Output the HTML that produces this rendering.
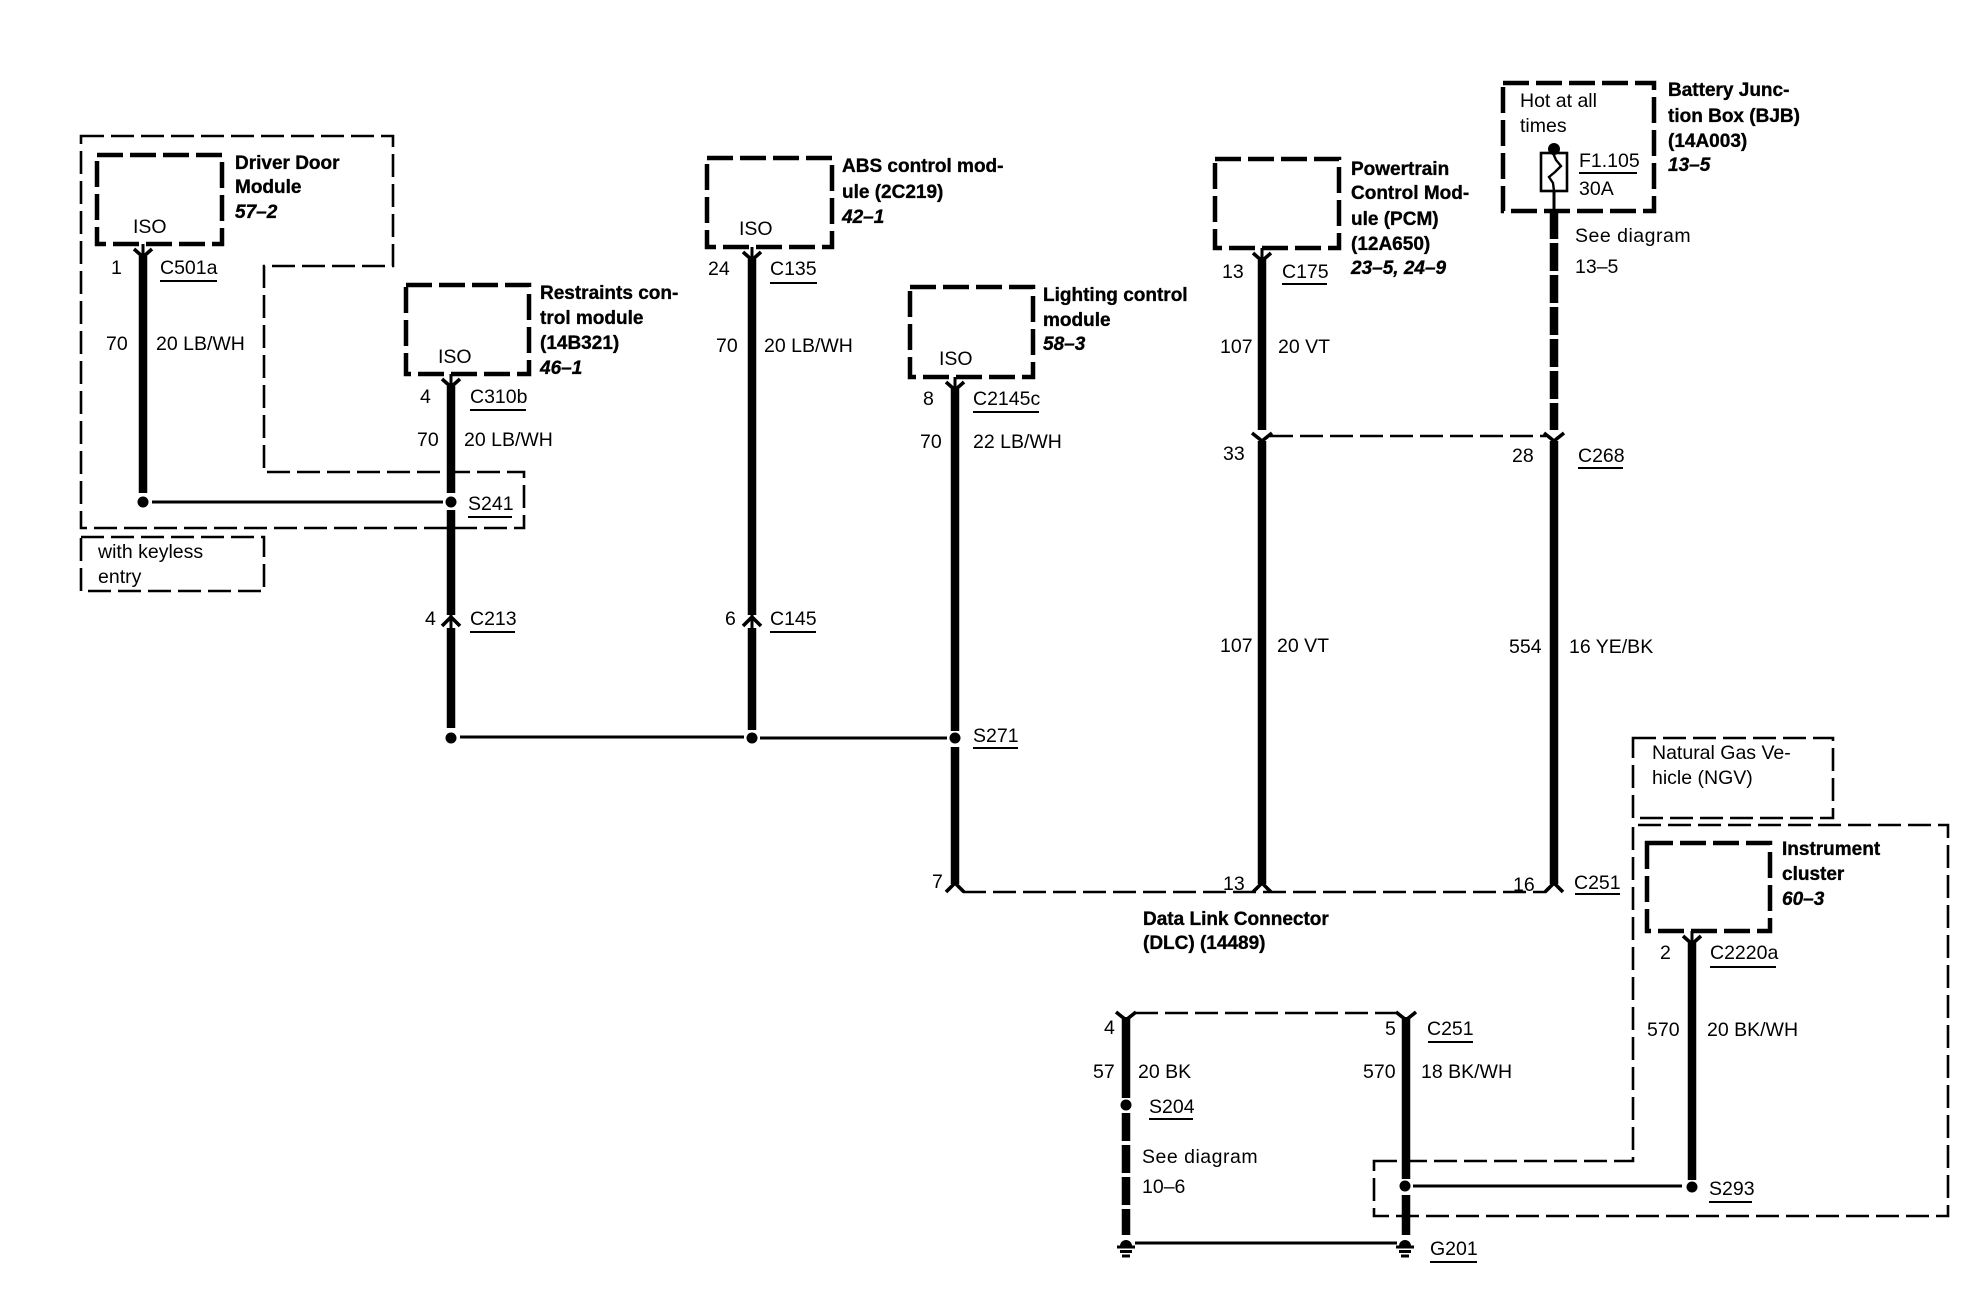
<!DOCTYPE html>
<html><head><meta charset="utf-8"><style>
html,body{margin:0;padding:0;background:#fff}
svg{display:block}
text{font-family:"Liberation Sans",sans-serif;font-size:19.5px;fill:#000}
.b{font-weight:bold;font-size:19px;stroke:#000;stroke-width:.35}
.i{font-weight:bold;font-style:italic;font-size:19px;stroke:#000;stroke-width:.35}
.sd{letter-spacing:.5px}
.t{fill:none;stroke:#000;stroke-width:4.5;stroke-dasharray:26 7}
.d{fill:none;stroke:#000;stroke-width:2.6;stroke-dasharray:23 7}
.w{fill:none;stroke:#000;stroke-width:8.5}
.td{fill:none;stroke:#000;stroke-width:8.5;stroke-dasharray:28 4}
.s{fill:none;stroke:#000;stroke-width:3}
.c{fill:none;stroke:#000;stroke-width:3.6}
.u{fill:none;stroke:#000;stroke-width:2}
</style></head><body>
<svg width="1974" height="1312" viewBox="0 0 1974 1312" xmlns="http://www.w3.org/2000/svg">
<rect width="1974" height="1312" fill="#fff"/>

<!-- thin dashed regions -->
<path class="d" d="M81,136H393V266H264V472H524V528H81Z"/>
<path class="d" d="M81,537H264V591H81Z"/>
<path class="d" d="M1633,738H1833V818H1633Z"/>
<path class="d" d="M1374,1161H1633V825H1948V1216H1374Z"/>
<path class="d" d="M1270,436H1546"/>
<path class="d" d="M963,892H1546"/>
<path class="d" d="M1135,1013H1397"/>

<!-- module boxes -->
<path class="t" d="M97,155H222V244H97Z"/>
<path class="t" d="M406,285H529V374H406Z"/>
<path class="t" d="M707,158H832V247H707Z"/>
<path class="t" d="M910,287H1033V377H910Z"/>
<path class="t" d="M1215,159H1339V248H1215Z"/>
<path class="t" d="M1503,83H1654V211H1503Z"/>
<path class="t" d="M1647,843H1770V931H1647Z"/>

<!-- wires -->
<path class="s" d="M143,244V256M451,374V386M752,247V259M955,377V389M1262,248V260M1692,931V943"/>
<path class="w" d="M143,256V493"/>
<path class="w" d="M451,386V493M451,510V615M451,628V728"/>
<path class="w" d="M752,259V615M752,628V730"/>
<path class="w" d="M955,389V731M955,747V884"/>
<path class="w" d="M1262,260V430M1262,441V884"/>
<path class="td" d="M1554,211V430"/>
<path class="w" d="M1554,441V884"/>
<path class="w" d="M1692,943V1180"/>
<path class="w" d="M1126,1017V1098"/>
<path class="td" d="M1126,1113V1235"/>
<path class="w" d="M1406,1017V1179M1406,1195V1235"/>

<!-- chevrons -->
<path class="c" d="M134,249L143,257L152,249M442,379L451,387L460,379M743,252L752,260L761,252M946,382L955,390L964,382M1253,253L1262,261L1271,253M1683,936L1692,944L1701,936"/>
<path class="c" d="M442,626L451,617L460,626M743,626L752,617L761,626"/>
<path class="s" d="M451,613V630M752,613V630"/>
<path class="c" d="M1252,433L1262,441L1272,433M1544,433L1554,441L1564,433"/>
<path class="c" d="M946,892L955,883L964,892M1253,892L1262,883L1271,892M1545,892L1554,883L1563,892"/>
<path class="c" d="M1116,1012L1126,1020L1136,1012M1396,1012L1406,1020L1416,1012"/>

<!-- thin connection lines -->
<path class="s" d="M152,502H443"/>
<path class="s" d="M460,737H744M760,738H947"/>
<path class="s" d="M1413,1186H1682"/>
<path class="s" d="M1135,1243H1397"/>

<!-- splice dots -->
<circle cx="143" cy="502" r="5.5"/>
<circle cx="451" cy="502" r="5.5"/>
<circle cx="451" cy="738" r="5.5"/>
<circle cx="752" cy="738" r="5.5"/>
<circle cx="955" cy="738" r="5.5"/>
<circle cx="1126" cy="1105" r="5.5"/>
<circle cx="1405" cy="1186" r="5.5"/>
<circle cx="1692" cy="1187" r="5.5"/>

<!-- grounds -->
<path d="M1120,1246a6,6 0 0 1 12,0Z"/>
<path class="s" d="M1117,1247H1135M1120,1251.5H1132M1122,1256H1130"/>
<path d="M1399,1246a6,6 0 0 1 12,0Z"/>
<path class="s" d="M1396,1247H1414M1399,1251.5H1411M1401,1256H1409"/>

<!-- fuse -->
<circle cx="1554" cy="149" r="6"/>
<rect x="1541" y="153" width="26" height="38" fill="none" stroke="#000" stroke-width="2.6"/>
<path fill="none" stroke="#000" stroke-width="2.4" d="M1553,153L1556,160L1561,166L1555,172L1549,177L1553,183L1554,191"/>
<path class="s" d="M1554,191V212"/>

<!-- underlines -->
<path class="u" d="M160,281H217M470,410H526M470,632H515M770,632H816M770,283H817M973,412H1039M1282,284H1327M1578,468H1623M1579,173H1637M1575,894H1620M468,517H512M973,748H1018M1149,1119H1193M1428,1042H1473M1430,1262H1477M1710,967H1776M1709,1202H1752"/>

<!-- text: Driver Door -->
<text class="b" x="235" y="169">Driver Door</text>
<text class="b" x="235" y="193">Module</text>
<text class="i" x="235" y="218">57–2</text>
<text x="133" y="233">ISO</text>
<text x="111" y="274">1</text>
<text x="160" y="274">C501a</text>
<text x="106" y="350">70</text>
<text x="156" y="350">20 LB/WH</text>

<text class="b" x="540" y="299">Restraints con-</text>
<text class="b" x="540" y="324">trol module</text>
<text class="b" x="540" y="349">(14B321)</text>
<text class="i" x="540" y="374">46–1</text>
<text x="438" y="363">ISO</text>
<text x="420" y="403">4</text>
<text x="470" y="403">C310b</text>
<text x="417" y="446">70</text>
<text x="464" y="446">20 LB/WH</text>
<text x="468" y="510">S241</text>
<text x="98" y="558">with keyless</text>
<text x="98" y="583">entry</text>
<text x="425" y="625">4</text>
<text x="470" y="625">C213</text>
<text x="725" y="625">6</text>
<text x="770" y="625">C145</text>
<text x="973" y="742">S271</text>

<text class="b" x="842" y="172">ABS control mod-</text>
<text class="b" x="842" y="198">ule (2C219)</text>
<text class="i" x="842" y="223">42–1</text>
<text x="739" y="235">ISO</text>
<text x="708" y="275">24</text>
<text x="770" y="275">C135</text>
<text x="716" y="352">70</text>
<text x="764" y="352">20 LB/WH</text>

<text class="b" x="1043" y="301">Lighting control</text>
<text class="b" x="1043" y="326">module</text>
<text class="i" x="1043" y="350">58–3</text>
<text x="939" y="365">ISO</text>
<text x="923" y="405">8</text>
<text x="973" y="405">C2145c</text>
<text x="920" y="448">70</text>
<text x="973" y="448">22 LB/WH</text>

<text class="b" x="1351" y="175">Powertrain</text>
<text class="b" x="1351" y="199">Control Mod-</text>
<text class="b" x="1351" y="225">ule (PCM)</text>
<text class="b" x="1351" y="250">(12A650)</text>
<text class="i" x="1351" y="274">23–5, 24–9</text>
<text x="1222" y="278">13</text>
<text x="1282" y="278">C175</text>
<text x="1220" y="353">107</text>
<text x="1278" y="353">20 VT</text>
<text x="1223" y="460">33</text>
<text x="1220" y="652">107</text>
<text x="1277" y="652">20 VT</text>

<text x="1520" y="107">Hot at all</text>
<text x="1520" y="132">times</text>
<text x="1579" y="167">F1.105</text>
<text x="1579" y="195">30A</text>
<text class="b" x="1668" y="96">Battery Junc-</text>
<text class="b" x="1668" y="122">tion Box (BJB)</text>
<text class="b" x="1668" y="147">(14A003)</text>
<text class="i" x="1668" y="171">13–5</text>
<text class="sd" x="1575" y="242">See diagram</text>
<text x="1575" y="273">13–5</text>
<text x="1512" y="462">28</text>
<text x="1578" y="462">C268</text>
<text x="1509" y="653">554</text>
<text x="1569" y="653">16 YE/BK</text>

<text x="932" y="888">7</text>
<text x="1223" y="890">13</text>
<text x="1513" y="891">16</text>
<text x="1574" y="889">C251</text>
<text class="b" x="1143" y="925">Data Link Connector</text>
<text class="b" x="1143" y="949">(DLC) (14489)</text>

<text x="1652" y="759">Natural Gas Ve-</text>
<text x="1652" y="784">hicle (NGV)</text>
<text class="b" x="1782" y="855">Instrument</text>
<text class="b" x="1782" y="880">cluster</text>
<text class="i" x="1782" y="905">60–3</text>
<text x="1660" y="959">2</text>
<text x="1710" y="959">C2220a</text>
<text x="1647" y="1036">570</text>
<text x="1707" y="1036">20 BK/WH</text>
<text x="1709" y="1195">S293</text>

<text x="1104" y="1034">4</text>
<text x="1385" y="1035">5</text>
<text x="1427" y="1035">C251</text>
<text x="1093" y="1078">57</text>
<text x="1138" y="1078">20 BK</text>
<text x="1363" y="1078">570</text>
<text x="1421" y="1078">18 BK/WH</text>
<text x="1149" y="1113">S204</text>
<text class="sd" x="1142" y="1163">See diagram</text>
<text x="1142" y="1193">10–6</text>
<text x="1430" y="1255">G201</text>
</svg>
</body></html>
